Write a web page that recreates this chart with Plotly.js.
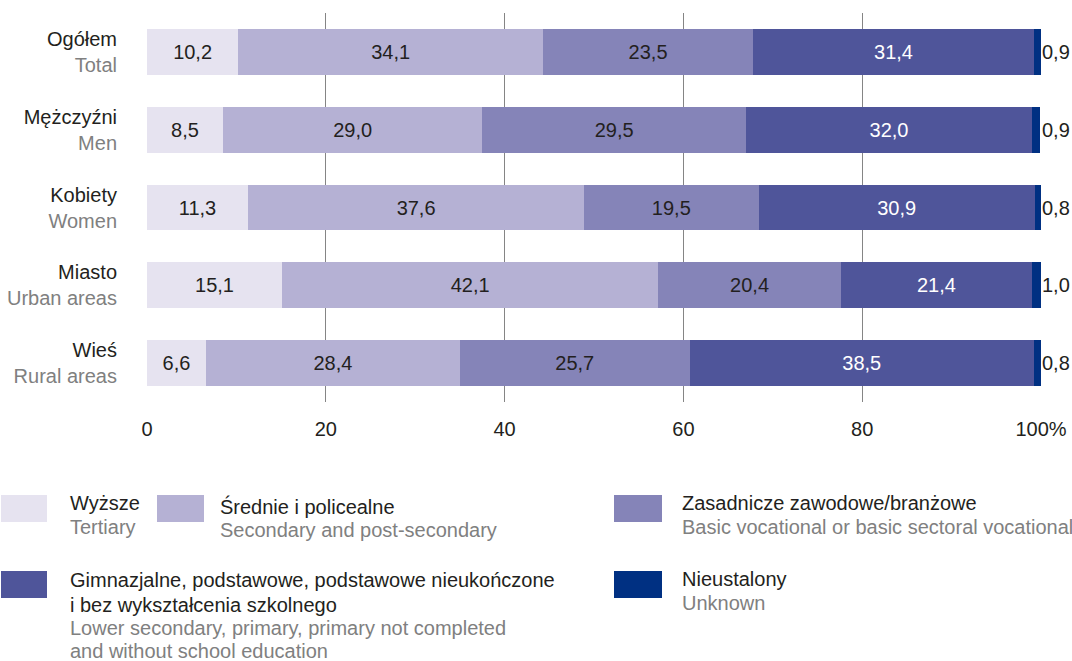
<!DOCTYPE html>
<html>
<head>
<meta charset="utf-8">
<script src="https://cdn.plot.ly/plotly-3.0.1.min.js"></script>
<style>html,body{margin:0;padding:0;background:#fff;}#chart{width:1072px;height:661px;}</style>
</head>
<body>
<div id="chart"></div>
<script>
const categoriesPl = ['Ogółem', 'Mężczyźni', 'Kobiety', 'Miasto', 'Wieś'];
const categoriesEn = ['Total', 'Men', 'Women', 'Urban areas', 'Rural areas'];
const tertiary = [10.2, 8.5, 11.3, 15.1, 6.6];
const secondary = [34.1, 29.0, 37.6, 42.1, 28.4];
const vocational = [23.5, 29.5, 19.5, 20.4, 25.7];
const lowerSec = [31.4, 32.0, 30.9, 21.4, 38.5];
const unknown = [0.9, 0.9, 0.8, 1.0, 0.8];
const seriesPl = [['Wyższe'], ['Średnie i policealne'], ['Zasadnicze zawodowe/branżowe'],
  ['Gimnazjalne, podstawowe, podstawowe nieukończone', 'i bez wykształcenia szkolnego'], ['Nieustalony']];
const seriesEn = [['Tertiary'], ['Secondary and post-secondary'], ['Basic vocational or basic sectoral vocational'],
  ['Lower secondary, primary, primary not completed', 'and without school education'], ['Unknown']];
const xTickVals = [0, 20, 40, 60, 80, 100];
const xTickText = ['0', '20', '40', '60', '80', '100%'];

const colors = ['#e6e3f0', '#b5b1d4', '#8584b8', '#4f559a', '#003082'];
const textColors = ['#231f20', '#231f20', '#231f20', '#ffffff', '#231f20'];
const FONT = '"Liberation Sans", Arial, sans-serif';
const FS = 20;
const DARK = '#231f20';
const GREY = '#808080';

const fmt = v => v.toFixed(1).replace('.', ',');
const series = [tertiary, secondary, vocational, lowerSec, unknown];

const traces = series.map((vals, i) => ({
  type: 'bar',
  orientation: 'h',
  y: categoriesPl,
  x: vals,
  name: seriesEn[i].join(' '),
  text: vals.map(fmt),
  textposition: i === 4 ? 'none' : 'inside',
  insidetextanchor: 'middle',
  constraintext: 'none',
  textfont: {family: FONT, size: FS, color: textColors[i]},
  marker: {color: colors[i], line: {width: 0}},
  hoverinfo: 'x+y'
}));

// layout geometry (pixels)
const W = 1072, H = 661;
const M = {l: 147, r: 31, t: 13, b: 259};
const PW = W - M.l - M.r, PH = H - M.t - M.b;
const px = x => (x - M.l) / PW;
const py = y => (H - M.b - y) / PH;

// legend layout: swatch box and centre y of each text line
const legendItems = [
  {sw: [1, 495, 47, 522], tx: 69, lines: [503, 527], i: 0},
  {sw: [157, 495, 204, 522], tx: 219, lines: [506, 530], i: 1},
  {sw: [614, 495, 662, 522], tx: 681, lines: [503, 527], i: 2},
  {sw: [1, 571, 47, 598], tx: 69, lines: [580, 605, 628, 651], i: 3},
  {sw: [614, 571, 662, 598], tx: 681, lines: [579, 603], i: 4}
];

const shapes = legendItems.map(it => ({
  type: 'rect', xref: 'paper', yref: 'paper',
  x0: px(it.sw[0]), x1: px(it.sw[2]), y0: py(it.sw[3]), y1: py(it.sw[1]),
  fillcolor: colors[it.i], line: {width: 0}, layer: 'above'
}));

const annotations = [];
legendItems.forEach(it => {
  const texts = seriesPl[it.i].map(t => ({t, c: DARK})).concat(seriesEn[it.i].map(t => ({t, c: GREY})));
  texts.forEach((o, k) => {
    annotations.push({
      xref: 'paper', yref: 'paper', x: px(it.tx), y: py(it.lines[k]),
      xanchor: 'left', yanchor: 'middle', align: 'left', showarrow: false, borderpad: 0,
      text: o.t, font: {family: FONT, size: FS, color: o.c}
    });
  });
});
// outside labels of the "unknown" series, anchored at the end of each stacked bar
categoriesPl.forEach((c, j) => {
  annotations.push({
    xref: 'x', yref: 'y', x: 100, y: c, xanchor: 'left', yanchor: 'middle',
    showarrow: false, borderpad: 0, xshift: 0,
    text: fmt(unknown[j]), font: {family: FONT, size: FS, color: DARK}
  });
});

const layout = {
  width: W, height: H,
  margin: M,
  paper_bgcolor: '#ffffff', plot_bgcolor: '#ffffff',
  barmode: 'stack',
  bargap: 0.41,
  showlegend: false,
  font: {family: FONT, size: FS, color: DARK},
  xaxis: {
    range: [0, 100], tickvals: xTickVals, ticktext: xTickText,
    showgrid: true, gridcolor: '#858585', gridwidth: 1, zeroline: false,
    showline: false, ticks: 'outside', ticklen: 9, tickcolor: 'rgba(0,0,0,0)',
    tickfont: {family: FONT, size: FS, color: DARK}, fixedrange: true
  },
  yaxis: {
    autorange: 'reversed', type: 'category',
    tickvals: categoriesPl,
    ticktext: categoriesPl.map((c, i) => c + '<br><span style="color:' + GREY + '">' + categoriesEn[i] + '</span>'),
    showgrid: false, zeroline: false, showline: false,
    ticks: 'outside', ticklen: 25, tickcolor: 'rgba(0,0,0,0)',
    tickfont: {family: FONT, size: FS, color: DARK}, fixedrange: true
  },
  shapes: shapes,
  annotations: annotations
};

Plotly.newPlot('chart', traces, layout, {displayModeBar: false, staticPlot: true});
</script>
</body>
</html>
